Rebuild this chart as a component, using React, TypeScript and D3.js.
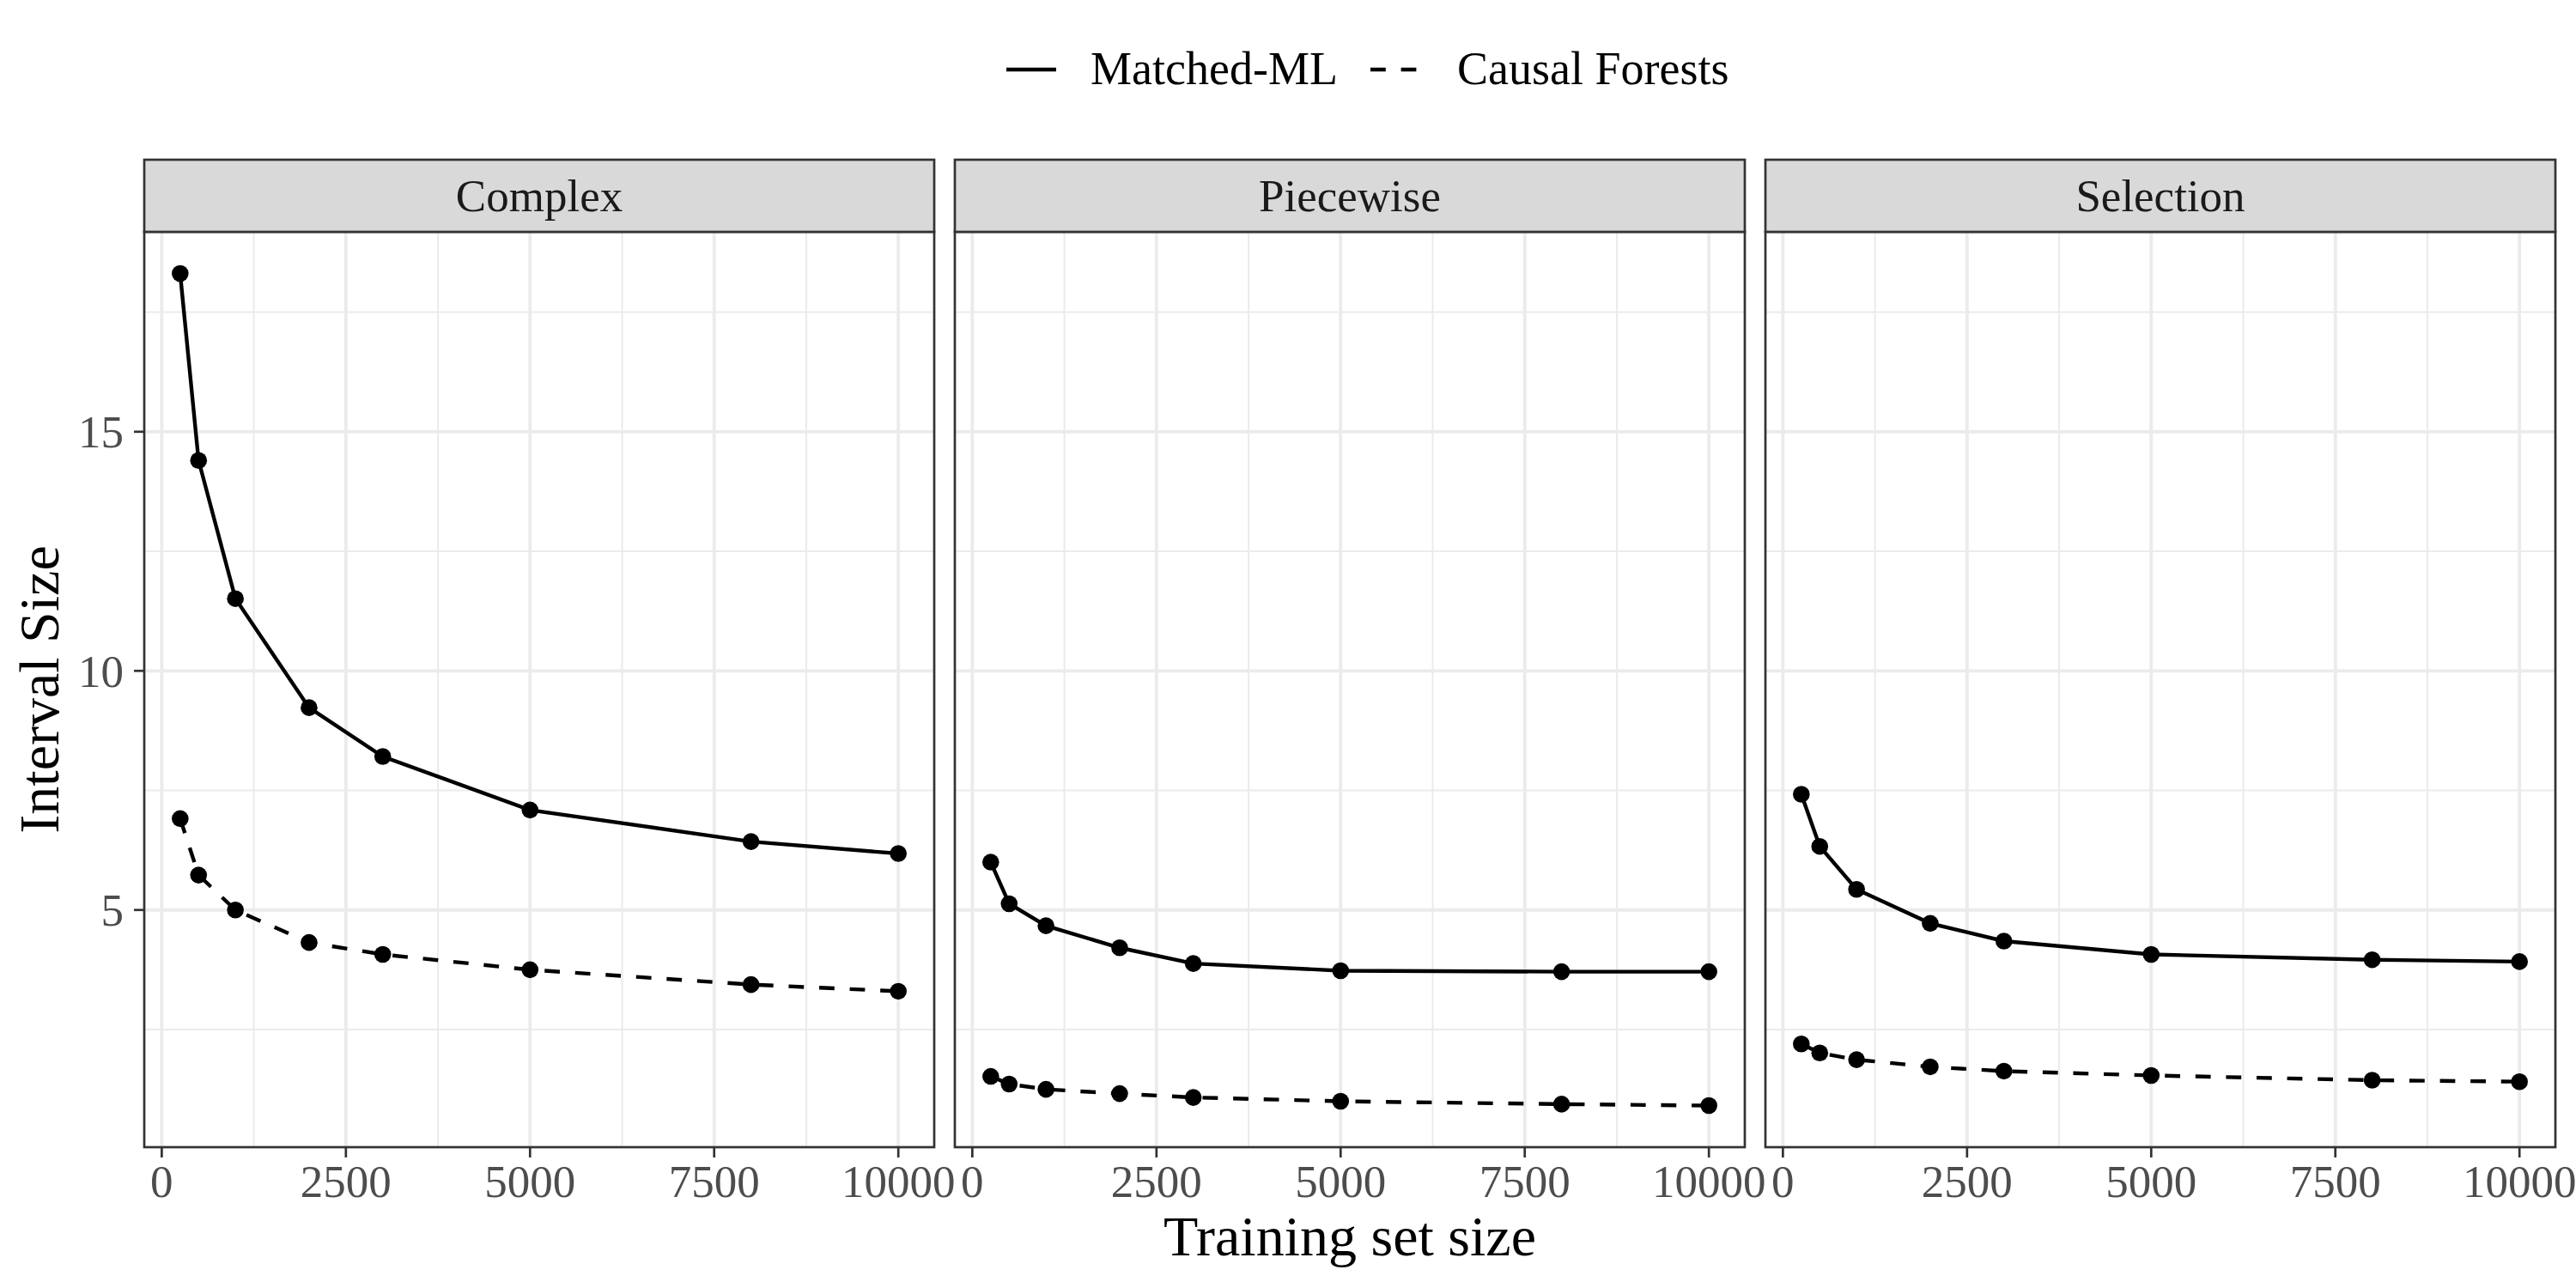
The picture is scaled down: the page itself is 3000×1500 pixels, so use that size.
import * as d3 from "d3";
import React, { useRef, useEffect } from "react";

const sizes = [250, 500, 1000, 2000, 3000, 5000, 8000, 10000];
const panels = ["Complex", "Piecewise", "Selection"];
const methods = ["Matched-ML", "Causal Forests"];

const matchedComplex = [18.31, 14.4, 11.51, 9.23, 8.21, 7.09, 6.43, 6.18];
const causalComplex = [6.91, 5.73, 5.0, 4.32, 4.07, 3.75, 3.44, 3.3];
const matchedPiecewise = [6.0, 5.13, 4.67, 4.21, 3.88, 3.73, 3.71, 3.71];
const causalPiecewise = [1.52, 1.36, 1.25, 1.16, 1.08, 1.0, 0.94, 0.91];
const matchedSelection = [7.42, 6.33, 5.43, 4.72, 4.35, 4.07, 3.96, 3.92];
const causalSelection = [2.2, 2.01, 1.87, 1.72, 1.63, 1.54, 1.44, 1.41];

const xTicks = [0, 2500, 5000, 7500, 10000];
const xMinor = [1250, 3750, 6250, 8750];
const yTicks = [5, 10, 15];
const yMinor = [2.5, 7.5, 12.5, 17.5];

const series = {
  Complex: [matchedComplex, causalComplex],
  Piecewise: [matchedPiecewise, causalPiecewise],
  Selection: [matchedSelection, causalSelection],
};

const FONT = "'Liberation Serif', 'Times New Roman', serif";

export default function App() {
  const svgRef = useRef<SVGSVGElement | null>(null);

  useEffect(() => {
    const width = 3000;
    const height = 1500;
    const panelW = 920;
    const gap = 24;
    const left0 = 168;
    const stripTop = 186;
    const plotTop = 270;
    const plotBottom = 1336;
    const lw = 4.4;

    const svg = d3.select(svgRef.current).attr("width", width).attr("height", height);
    svg.selectAll("*").remove();
    svg.append("rect").attr("width", width).attr("height", height).attr("fill", "white");

    const xExt = d3.extent(sizes) as [number, number];
    const xPad = (xExt[1] - xExt[0]) * 0.05;
    const allVals = [
      ...matchedComplex, ...causalComplex, ...matchedPiecewise,
      ...causalPiecewise, ...matchedSelection, ...causalSelection,
    ];
    const yExt = d3.extent(allVals) as [number, number];
    const yPad = (yExt[1] - yExt[0]) * 0.05;
    const y = d3.scaleLinear().domain([yExt[0] - yPad, yExt[1] + yPad]).range([plotBottom, plotTop]);

    panels.forEach((name, i) => {
      const x0 = left0 + i * (panelW + gap);
      const x = d3.scaleLinear().domain([xExt[0] - xPad, xExt[1] + xPad]).range([x0, x0 + panelW]);
      const g = svg.append("g");

      // grid
      g.selectAll(".xmin").data(xMinor).join("line")
        .attr("x1", d => x(d)).attr("x2", d => x(d)).attr("y1", plotTop).attr("y2", plotBottom)
        .attr("stroke", "#EBEBEB").attr("stroke-width", 2);
      g.selectAll(".ymin").data(yMinor).join("line")
        .attr("x1", x0).attr("x2", x0 + panelW).attr("y1", d => y(d)).attr("y2", d => y(d))
        .attr("stroke", "#EBEBEB").attr("stroke-width", 2);
      g.selectAll(".xmaj").data(xTicks).join("line")
        .attr("x1", d => x(d)).attr("x2", d => x(d)).attr("y1", plotTop).attr("y2", plotBottom)
        .attr("stroke", "#EBEBEB").attr("stroke-width", 3.8);
      g.selectAll(".ymaj").data(yTicks).join("line")
        .attr("x1", x0).attr("x2", x0 + panelW).attr("y1", d => y(d)).attr("y2", d => y(d))
        .attr("stroke", "#EBEBEB").attr("stroke-width", 3.8);

      // lines and points
      const line = d3.line<number>().x((_, j) => x(sizes[j])).y(d => y(d));
      series[name].forEach((vals, k) => {
        g.append("path")
          .attr("d", line(vals))
          .attr("fill", "none")
          .attr("stroke", "black")
          .attr("stroke-width", lw)
          .attr("stroke-dasharray", k === 1 ? "17.8 17.8" : null);
      });
      series[name].forEach(vals => {
        g.selectAll(null).data(vals).join("circle")
          .attr("cx", (_, j) => x(sizes[j])).attr("cy", d => y(d)).attr("r", 9.8)
          .attr("fill", "black");
      });

      // panel border
      g.append("rect").attr("x", x0).attr("y", plotTop).attr("width", panelW)
        .attr("height", plotBottom - plotTop).attr("fill", "none")
        .attr("stroke", "#333333").attr("stroke-width", 2.7);

      // strip
      g.append("rect").attr("x", x0).attr("y", stripTop).attr("width", panelW)
        .attr("height", plotTop - stripTop).attr("fill", "#D9D9D9")
        .attr("stroke", "#333333").attr("stroke-width", 2.7);
      g.append("text").attr("x", x0 + panelW / 2).attr("y", 246)
        .attr("text-anchor", "middle").attr("font-family", FONT).attr("font-size", 53)
        .attr("fill", "#1A1A1A").text(name);

      // x axis
      g.selectAll(".xt").data(xTicks).join("line")
        .attr("x1", d => x(d)).attr("x2", d => x(d)).attr("y1", plotBottom).attr("y2", plotBottom + 12)
        .attr("stroke", "#333333").attr("stroke-width", 2.7);
      g.selectAll(".xl").data(xTicks).join("text")
        .attr("x", d => x(d)).attr("y", 1394).attr("text-anchor", "middle")
        .attr("font-family", FONT).attr("font-size", 53).attr("fill", "#4D4D4D")
        .text(d => String(d));

      if (i === 0) {
        g.selectAll(".yt").data(yTicks).join("line")
          .attr("x1", x0 - 12).attr("x2", x0).attr("y1", d => y(d)).attr("y2", d => y(d))
          .attr("stroke", "#333333").attr("stroke-width", 2.7);
        g.selectAll(".yl").data(yTicks).join("text")
          .attr("x", x0 - 24).attr("y", d => y(d)).attr("dy", "0.35em").attr("text-anchor", "end")
          .attr("font-family", FONT).attr("font-size", 53).attr("fill", "#4D4D4D")
          .text(d => String(d));
      }
    });

    // axis titles
    svg.append("text").attr("x", 1572).attr("y", 1462).attr("text-anchor", "middle")
      .attr("font-family", FONT).attr("font-size", 66).attr("fill", "black").text("Training set size");
    svg.append("text").attr("transform", `translate(68,${(plotTop + plotBottom) / 2}) rotate(-90)`)
      .attr("text-anchor", "middle").attr("font-family", FONT).attr("font-size", 66)
      .attr("fill", "black").text("Interval Size");

    // legend
    const legend = [
      { label: methods[0], kx: 1172, tx: 1270, dash: null },
      { label: methods[1], kx: 1596, tx: 1697, dash: "17.8 17.8" },
    ];
    legend.forEach(l => {
      svg.append("line").attr("x1", l.kx).attr("x2", l.kx + 58).attr("y1", 81).attr("y2", 81)
        .attr("stroke", "black").attr("stroke-width", lw).attr("stroke-dasharray", l.dash);
      svg.append("text").attr("x", l.tx).attr("y", 98).attr("font-family", FONT)
        .attr("font-size", 54).attr("fill", "black").text(l.label);
    });
  }, []);

  return <svg ref={svgRef} style={{ position: "absolute", left: 0, top: 0, display: "block" }} />;
}
